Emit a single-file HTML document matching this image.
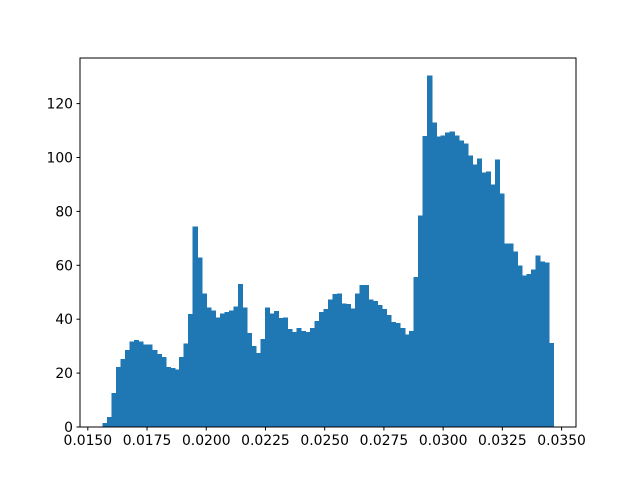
<!DOCTYPE html>
<html><head><meta charset="utf-8"><style>
body{margin:0;background:#fff;}
svg{display:block;font-family:"DejaVu Sans","Liberation Sans",sans-serif;}
</style></head><body>
<svg id="chart" width="640" height="480">
<rect x="0" y="0" width="640" height="480" fill="#fff"/>
<g id="bars" shape-rendering="crispEdges"></g>
<g id="axes"></g>
</svg>
<script>
const binMin = 0.015622;
const binMax = 0.034657;
const counts = [1.5,3.7,12.6,22.2,25.2,28.5,31.8,32.2,31.8,30.7,30.7,28.5,27,26,22.2,21.8,21.4,26,31,42,
74.4,62.9,49.6,44.4,43.3,40.7,42.2,42.6,43.3,44.8,53,44.4,34.8,30,27.4,32.6,44.4,42.2,43,40.4,
40.7,36.3,35.2,36.7,35.6,35.2,36.7,39.3,42.6,43.7,47.4,49.3,49.6,45.9,45.6,44,49.6,52.6,52.6,47.4,
46.7,45.2,43.7,41.5,38.9,38.5,36.7,34.4,35.6,55.6,78.5,108,130.4,113,107.8,108.1,109.3,109.6,108.1,106.3,
105.2,100.7,97.4,99.6,94.4,94.8,90,99.3,86.7,68.1,68.1,65.2,60,56.3,56.7,58.5,63.7,61.5,61.1,31.1];
const xTicks = [0.0150,0.0175,0.0200,0.0225,0.0250,0.0275,0.0300,0.0325,0.0350];
const xTickLabels = ["0.0150","0.0175","0.0200","0.0225","0.0250","0.0275","0.0300","0.0325","0.0350"];
const yTicks = [0,20,40,60,80,100,120];

const L=80,R=576,T=58,B=427;
const span=binMax-binMin;
const xmin=binMin-0.05*span, xmax=binMax+0.05*span;
const ymax=Math.max(...counts)*1.05;
const sx=v=>L+(v-xmin)/(xmax-xmin)*(R-L);
const sy=v=>B-v/ymax*(B-T);
const NS="http://www.w3.org/2000/svg";
function mk(tag,attrs,parent){const e=document.createElementNS(NS,tag);for(const k in attrs)e.setAttribute(k,attrs[k]);parent.appendChild(e);return e;}
const bars=document.getElementById('bars'), axes=document.getElementById('axes');
const w=span/counts.length;
counts.forEach((c,i)=>{
  const x0=sx(binMin+i*w), x1=sx(binMin+(i+1)*w);
  const r=mk('rect',{x:x0,y:sy(c),width:x1-x0+0.6,height:B-sy(c),fill:'#1f77b4'},bars);
  
  
});
const frame=mk('rect',{x:L,y:T,width:R-L,height:B-T,fill:'none',stroke:'#000','stroke-width':1},axes);


xTicks.forEach((t,i)=>{
  const x=sx(t);
  mk('line',{x1:x,x2:x,y1:B,y2:B+3.5,stroke:'#000'},axes);
  const tx=mk('text',{x:x,y:B+18,'text-anchor':'middle','font-size':13.9,fill:'#000'},axes);
  tx.textContent=xTickLabels[i];
  
  
});
yTicks.forEach(t=>{
  const y=sy(t);
  mk('line',{x1:L-3.5,x2:L,y1:y,y2:y,stroke:'#000'},axes);
  const tx=mk('text',{x:L-7,y:y+5,'text-anchor':'end','font-size':13.9,fill:'#000'},axes);
  tx.textContent=t;
  
  
});
</script>
</body></html>
